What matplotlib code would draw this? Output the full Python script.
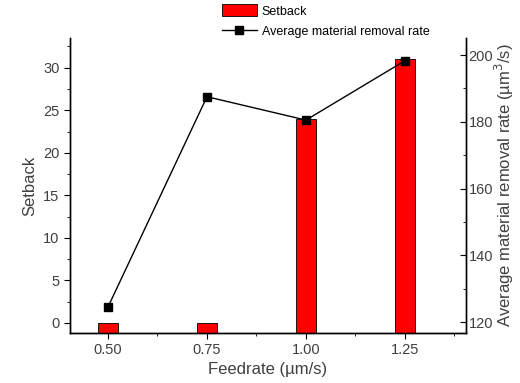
import numpy as np
import matplotlib.pyplot as plt
from matplotlib.ticker import MultipleLocator

feedrate = [0.50, 0.75, 1.00, 1.25]
setback = [0.0, 0.0, 24.0, 31.0]
mrr = [124.5, 187.5, 180.5, 198.3]

plt.rcParams.update({
    "font.family": "Liberation Sans",
    "font.size": 10,
})

fig = plt.figure(figsize=(5.2, 3.83), dpi=100)
ax = fig.add_axes([0.1346, 0.1305, 0.7614, 0.7703])
ax2 = ax.twinx()

y0 = -1.2
ax.set_ylim(y0, 33.5)
ax.set_xlim(0.404, 1.404)
h = [v - y0 for v in setback]
bars = ax.bar(feedrate, h, bottom=y0, width=0.05, color="#ff0000",
              edgecolor="black", linewidth=0.6, label="Setback", zorder=2)

ax2.set_ylim(116.7, 205.1)
line, = ax2.plot(feedrate, mrr, color="black", marker="s", markersize=6,
                 linewidth=1.0, label="Average material removal rate")

ax.set_xticks(feedrate)
ax.set_xticklabels([f"{v:.2f}" for v in feedrate])
ax.xaxis.set_minor_locator(MultipleLocator(0.125))
ax.yaxis.set_major_locator(MultipleLocator(5))
ax.yaxis.set_minor_locator(MultipleLocator(2.5))
ax2.yaxis.set_major_locator(MultipleLocator(20))
ax2.yaxis.set_minor_locator(MultipleLocator(10))

for a in (ax, ax2):
    a.spines["top"].set_visible(False)
    for s in ("left", "right", "bottom"):
        a.spines[s].set_linewidth(1.0)
ax.tick_params(axis="both", which="major", direction="out", length=4,
               labelcolor="#404040", labelsize=10.5)
ax.tick_params(axis="both", which="minor", direction="out", length=2)
ax2.tick_params(axis="y", which="major", direction="in", length=4,
                labelcolor="#404040", labelsize=10.5, pad=2)
ax2.tick_params(axis="y", which="minor", direction="in", length=2)

ax.set_xlabel("Feedrate (\u00b5m/s)", color="#404040", fontsize=12, labelpad=3)
ax.set_ylabel("Setback", color="#404040", fontsize=12)
ax2.set_ylabel("Average material removal rate (\u00b5m$^3$/s)", color="#404040",
               fontsize=12, labelpad=0)

fig.legend([bars, line], ["Setback", "Average material removal rate"],
           loc="upper left", bbox_to_anchor=(0.405, 1.018), frameon=False,
           fontsize=9, handlelength=2.8, handleheight=1.1, handletextpad=0.4,
           labelspacing=0.6)

fig.savefig("out.png", dpi=100)
